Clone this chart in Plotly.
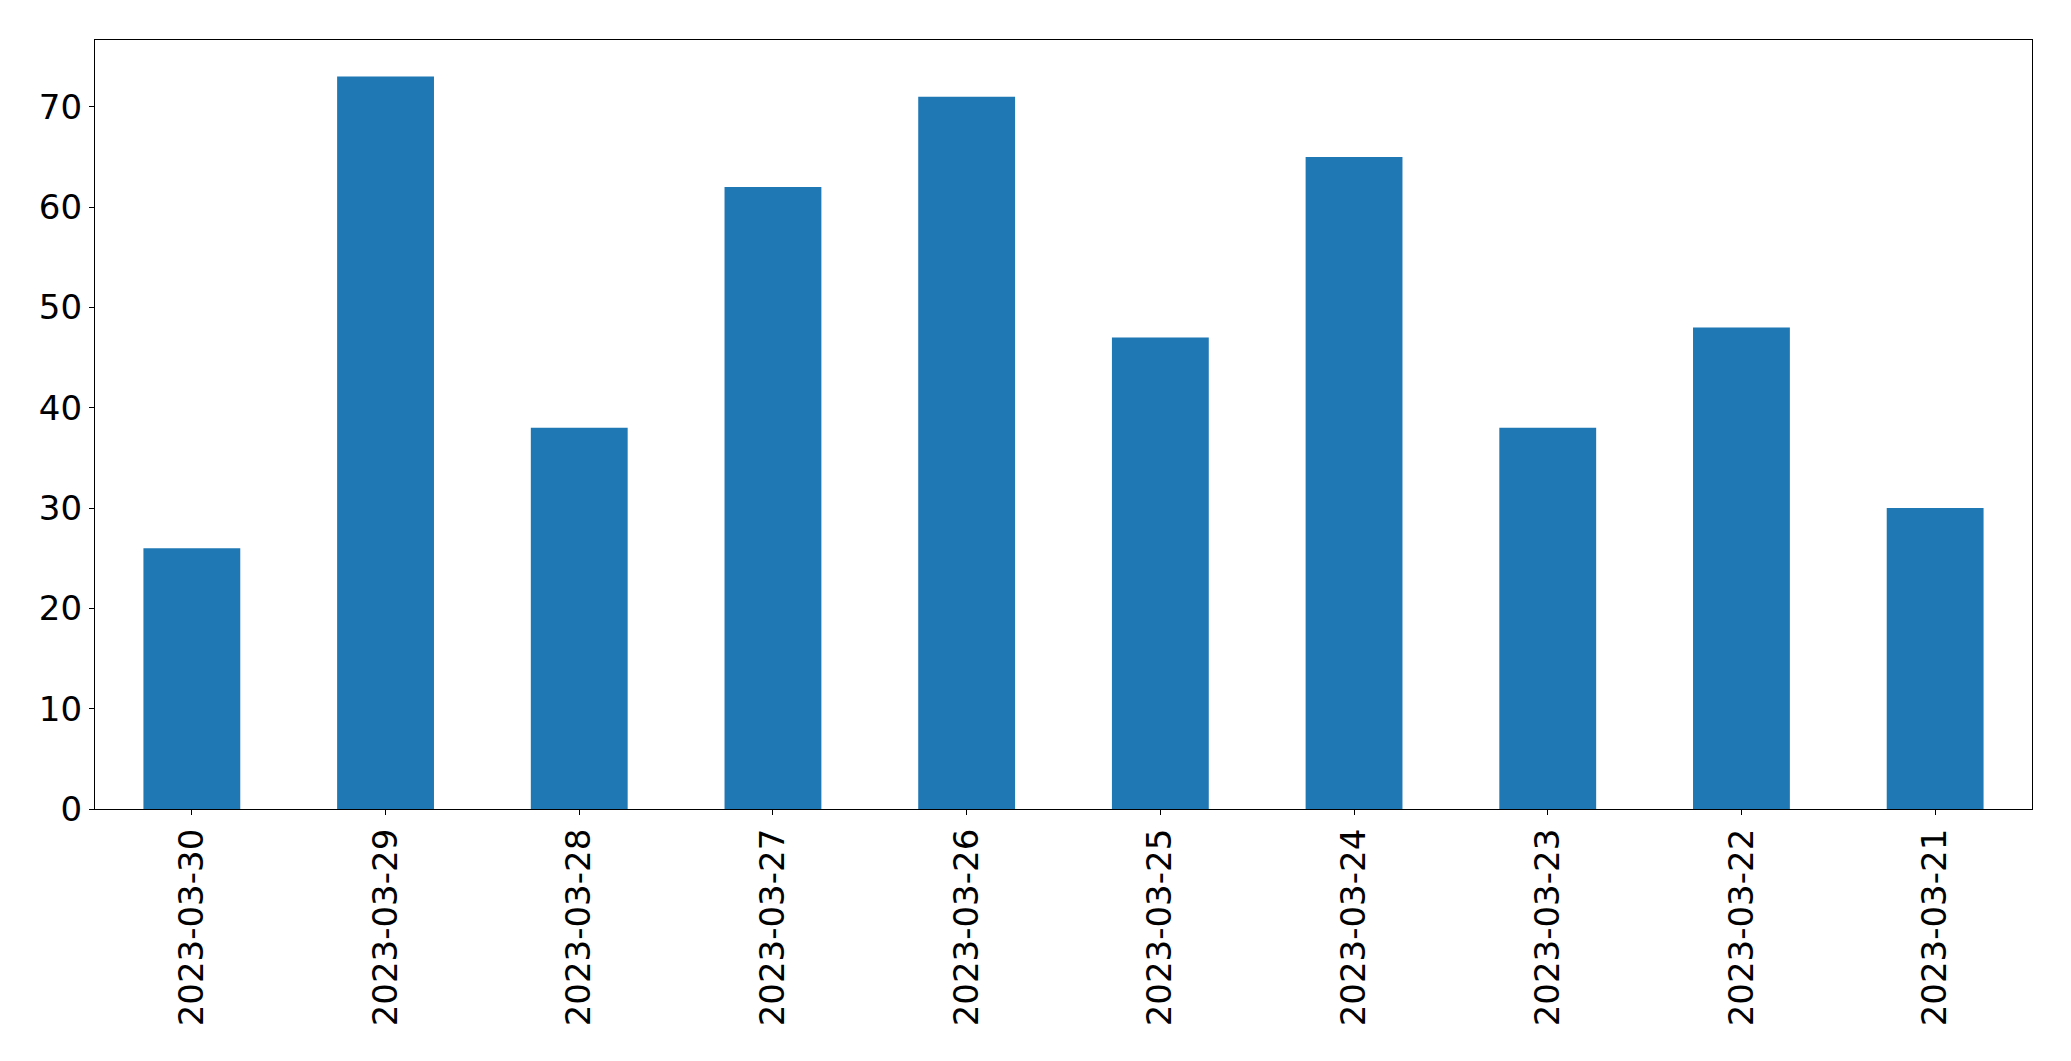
import plotly.graph_objects as go

dates = ["2023-03-30", "2023-03-29", "2023-03-28", "2023-03-27", "2023-03-26",
         "2023-03-25", "2023-03-24", "2023-03-23", "2023-03-22", "2023-03-21"]
counts = [26, 73, 38, 62, 71, 47, 65, 38, 48, 30]
y_ticks = [0, 10, 20, 30, 40, 50, 60, 70]

fig = go.Figure(go.Bar(x=dates, y=counts, width=0.5, marker=dict(color="#1f77b4", line=dict(width=0))))

font = dict(family="DejaVu Sans", size=34, color="black")
fig.update_layout(
    width=2071, height=1061,
    margin=dict(l=95, r=39, t=40, b=252, autoexpand=False),
    plot_bgcolor="white", paper_bgcolor="white",
    showlegend=False,
    font=font,
)
fig.update_xaxes(
    type="category", range=[-0.5, len(dates) - 0.5],
    tickangle=-90, ticks="outside", ticklen=5, tickwidth=1.3, tickcolor="black",
    showline=True, linecolor="black", linewidth=1.3, mirror=True,
    showgrid=False, tickfont=font, automargin=False,
)
fig.update_yaxes(
    range=[0, max(counts) * 1.05], tickvals=y_ticks,
    ticks="outside", ticklen=5, tickwidth=1.3, tickcolor="black",
    showline=True, linecolor="black", linewidth=1.3, mirror=True,
    showgrid=False, zeroline=False, tickfont=font, automargin=False,
)
fig.write_html("out.html", config={"displayModeBar": False},
               post_script="document.body.style.margin='0';document.body.style.padding='0';")
